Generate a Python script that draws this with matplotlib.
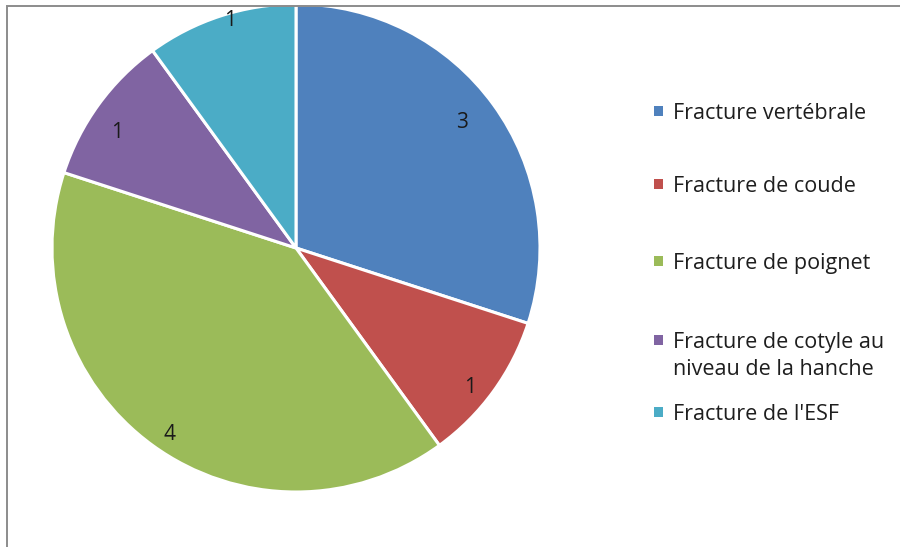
import numpy as np
import matplotlib.pyplot as plt
from matplotlib.patches import Rectangle

# Fractures recensées
categories = ["Fracture vertébrale", "Fracture de coude", "Fracture de poignet",
              "Fracture de cotyle au\nniveau de la hanche", "Fracture de l'ESF"]
counts = [3, 1, 4, 1, 1]
colors = ["#4F81BD", "#C0504D", "#9BBB59", "#8064A2", "#4BACC6"]

W, H = 900, 547
fig = plt.figure(figsize=(W / 100, H / 100), dpi=100)
fig.patch.set_facecolor("white")

# pie area in pixels: centre (296, 248), radius 244
cx, cy, r = 296, 248, 244
ax = fig.add_axes([(cx - r) / W, 1 - (cy + r) / H, 2 * r / W, 2 * r / H])
wedges, texts = ax.pie(counts, colors=colors, startangle=90, counterclock=False,
                       radius=1, labels=[str(c) for c in counts], labeldistance=0.89,
                       wedgeprops=dict(edgecolor="white", linewidth=2.2),
                       textprops=dict(fontsize=15, family="Open Sans", color="#1a1a1a",
                                      ha="center", va="center_baseline"))

# value labels: distance from centre and small angular nudge (degrees)
label_radius = [0.86, 0.91, 0.915, 0.88, 0.98]
label_nudge = [1.6, -2.2, 1.6, 2.6, -2.0]
for w, t, rho, dth in zip(wedges, texts, label_radius, label_nudge):
    mid = np.deg2rad((w.theta1 + w.theta2) / 2 + dth)
    t.set_position((rho * np.cos(mid), rho * np.sin(mid)))

ax.set_xlim(-1, 1)
ax.set_ylim(-1, 1)
ax.set_aspect("equal")
ax.axis("off")

# legend drawn by hand on the right (baselines in pixels from the top)
baselines = [119, 192, 269, 348, 420]
line_gap = 27
for lab, col, yb in zip(categories, colors, baselines):
    fig.patches.append(Rectangle((654 / W, 1 - (yb - 3) / H), 9 / W, 10 / H,
                                 transform=fig.transFigure, facecolor=col,
                                 edgecolor="none"))
    for i, line in enumerate(lab.split("\n")):
        fig.text(673 / W, 1 - (yb + i * line_gap) / H, line, fontsize=15.5,
                 family="Open Sans", color="#1e1e1e", ha="left", va="baseline")

# chart frame
fig.patches.append(Rectangle((7 / W, -0.1), 1.2, 1 - 6 / H + 0.1,
                             transform=fig.transFigure, facecolor="none",
                             edgecolor="#8c8c8c", linewidth=1.4, zorder=5))

fig.savefig("out.png", dpi=100)
